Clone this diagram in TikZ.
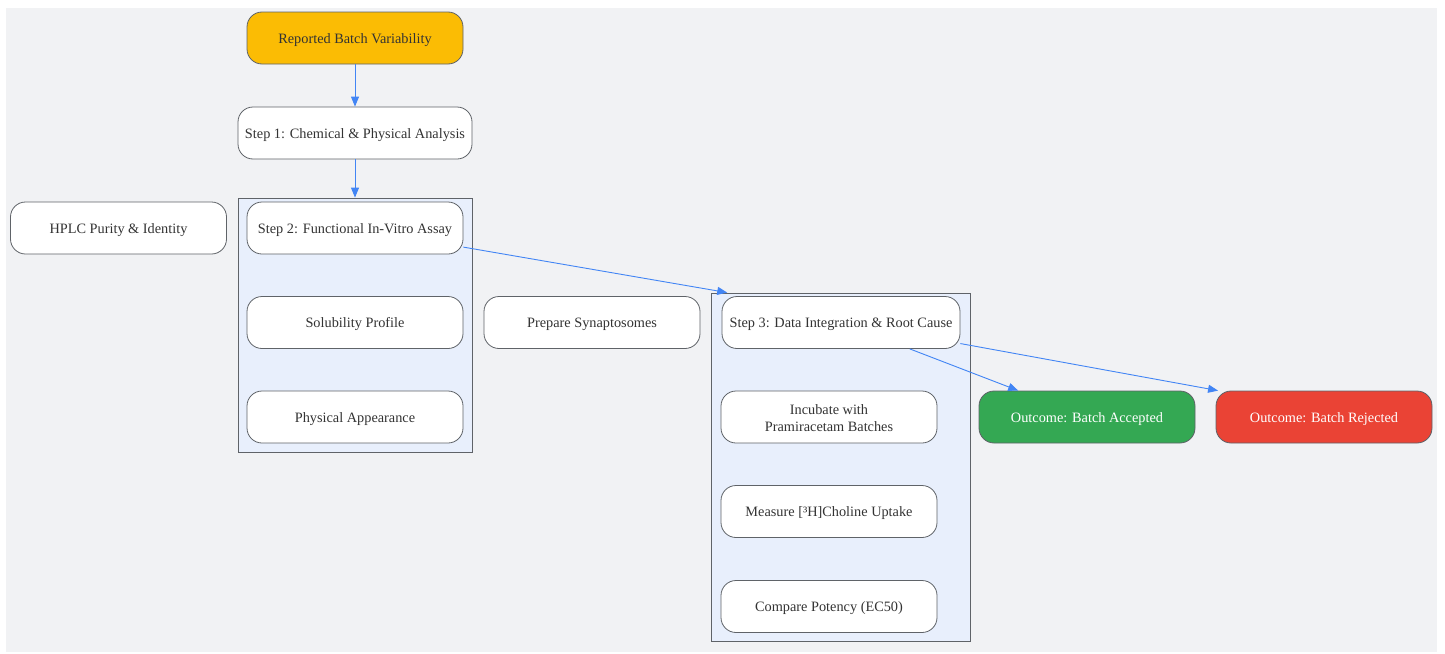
\documentclass[tikz,border=0pt]{standalone}
\usepackage{fontspec}
\setmainfont{Liberation Serif}
\usetikzlibrary{arrows.meta}
\definecolor{bg}{HTML}{F1F2F4}
\definecolor{clfill}{HTML}{E8EFFC}
\definecolor{bordc}{HTML}{5F6368}
\definecolor{edgec}{HTML}{4285F4}
\definecolor{txtc}{HTML}{333333}
\definecolor{yel}{HTML}{FBBC04}
\definecolor{grn}{HTML}{34A853}
\definecolor{rd}{HTML}{EA4335}
\tikzset{
  boxbase/.style={draw=bordc, line width=0.8pt, fill=white, rounded corners=15pt,
    minimum width=216pt, minimum height=52pt, inner sep=0pt, align=center,
    text=txtc, font=\fontsize{14.3}{17}\selectfont},
  box/.style={boxbase, text height=11.5pt, text depth=1.5pt},
  cluster/.style={draw=bordc, line width=0.8pt, fill=clfill, inner sep=0pt},
  edge/.style={draw=edgec, line width=0.9pt, -{Triangle[length=10pt,width=8pt]}},
}
\begin{document}
\begin{tikzpicture}[x=1pt,y=-1pt]
\useasboundingbox (0,0) rectangle (1445,653);
\fill[bg] (6,8) rectangle (1437,652);
% clusters
\node[cluster, minimum width=234pt, minimum height=254pt] (c1) at (355,325) {};
\node[cluster, minimum width=259pt, minimum height=348pt] (c2) at (840.5,467) {};
% nodes
\node[box, fill=yel] (rep) at (355,38) {Reported Batch Variability};
\node[box, minimum width=234pt] (s1) at (355,133) {Step 1: Chemical \& Physical Analysis};
\node[box] (s2) at (355,228) {Step 2: Functional In-Vitro Assay};
\node[box] (sol) at (355,322.5) {Solubility Profile};
\node[box] (phy) at (355,417) {Physical Appearance};
\node[box] (hplc) at (118.5,228) {HPLC Purity \& Identity};
\node[box] (prep) at (592,322.5) {Prepare Synaptosomes};
\node[box, minimum width=238pt] (s3) at (841,322.5) {Step 3: Data Integration \& Root Cause};
\node[boxbase] (inc) at (829,417) {\rule{0pt}{12pt}Incubate with\\Pramiracetam Batches};
\node[box] (meas) at (829,511.5) {Measure [³H]Choline Uptake};
\node[box] (cmp) at (829,606.5) {Compare Potency (EC50)};
\node[box, fill=grn, text=white] (acc) at (1087,417) {Outcome: Batch Accepted};
\node[box, fill=rd, text=white] (rej) at (1324,417) {Outcome: Batch Rejected};
% edges
\draw[edge] (rep.south) -- (s1.north);
\draw[edge] (s1.south) -- (c1.north);
\draw[edge] (s2.-10.5) -- (c2.123.8);
\draw[edge] (s3.-21.1) -- (acc.159);
\draw[edge] (s3.-10.9) -- (rej.166);
\end{tikzpicture}
\end{document}
